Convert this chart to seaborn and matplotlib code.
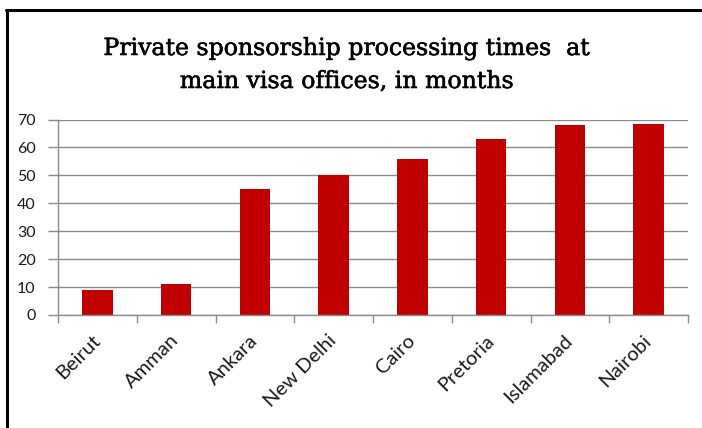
import matplotlib
matplotlib.use("Agg")
import matplotlib.pyplot as plt
import matplotlib.patheffects as pe
import matplotlib.transforms as mtransforms
import seaborn as sns
import numpy as np
import pandas as pd
from matplotlib.lines import Line2D

cities = ["Beirut", "Amman", "Ankara", "New Delhi", "Cairo", "Pretoria", "Islamabad", "Nairobi"]
months = [9, 11, 45, 50, 56, 63, 68, 68.5]
yticks = [0, 10, 20, 30, 40, 50, 60, 70]
title_lines = ["Private sponsorship processing times  at", "main visa offices, in months"]

sns.set_theme(style="white")
plt.rcParams['font.family'] = ['Lato', 'DejaVu Sans']

df = pd.DataFrame({"city": cities, "months": months})

fig = plt.figure(figsize=(7.02, 4.28), dpi=100)
ax = fig.add_axes([58/702, 1 - 315/428, (688-58)/702, (315-119.5)/428])

sns.barplot(data=df, x="city", y="months", color="#C00000", width=0.39,
            saturation=1, ax=ax, edgecolor="none")

ax.set_xlim(-0.5, len(cities) - 0.5)
ax.set_ylim(0, 70)
ax.set_yticks(yticks)
ax.set_yticklabels([str(v) for v in yticks], fontsize=11.5, color="#1a1a1a")
ax.yaxis.grid(True, color="#8c8c8c", linewidth=1.0)
ax.set_axisbelow(True)
ax.tick_params(axis="y", which="major", left=True, length=7, color="#8c8c8c", width=1, pad=9)

ax.set_xticks(range(len(cities)))
ax.set_xticklabels(cities, rotation=45, ha="right", rotation_mode="anchor",
                   fontsize=14.5, color="#1a1a1a")
ax.tick_params(axis="x", which="major", length=0, pad=12)
shift = mtransforms.ScaledTranslation(-6/100, 0, fig.dpi_scale_trans)
for lab in ax.get_xticklabels():
    lab.set_transform(lab.get_transform() + shift)
ax.set_xticks(np.arange(-0.5, len(cities) + 0.5, 1), minor=True)
ax.tick_params(axis="x", which="minor", bottom=True, length=6, color="#8c8c8c", width=1)

ax.set_xlabel("")
ax.set_ylabel("")
for side in ["top", "right"]:
    ax.spines[side].set_visible(False)
for side in ["left", "bottom"]:
    ax.spines[side].set_visible(True)
    ax.spines[side].set_color("#8c8c8c")
    ax.spines[side].set_linewidth(1.0)

for line, base in zip(title_lines, [55, 88]):
    fig.text(347/702, 1 - base/428, line, ha="center", va="baseline",
             fontsize=17, family="DejaVu Serif", color="#000000",
             path_effects=[pe.withStroke(linewidth=0.4, foreground="#000000")])

# figure frame (left and top edges visible)
fig.add_artist(Line2D([7/702, 7/702], [0, 1 - 10/428], transform=fig.transFigure,
                      color="black", linewidth=2.2))
fig.add_artist(Line2D([6/702, 1], [1 - 10/428, 1 - 10/428], transform=fig.transFigure,
                      color="black", linewidth=2.2))

fig.savefig("out.png", dpi=100)
